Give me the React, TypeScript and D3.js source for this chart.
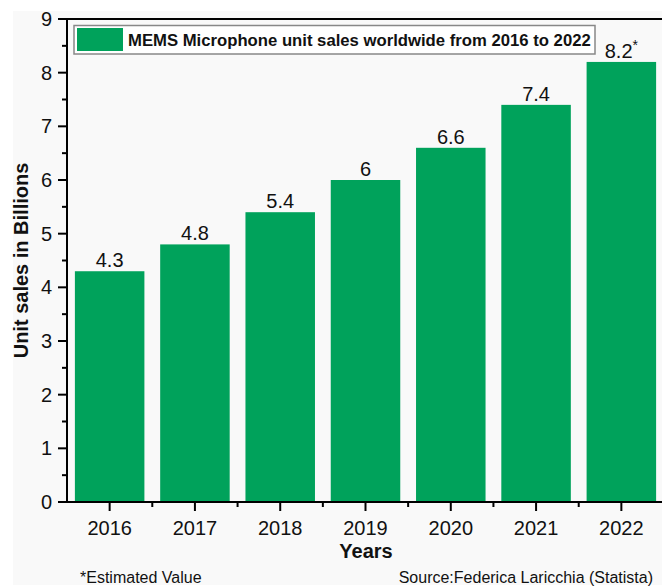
import React from "react";
import * as d3 from "d3";

const years = ["2016", "2017", "2018", "2019", "2020", "2021", "2022"];
const sales = [4.3, 4.8, 5.4, 6, 6.6, 7.4, 8.2];
const valueLabels = ["4.3", "4.8", "5.4", "6", "6.6", "7.4", "8.2"];
const estimated = [false, false, false, false, false, false, true];
const yTicks = [0, 1, 2, 3, 4, 5, 6, 7, 8, 9];
const yMinorTicks = [0.5, 1.5, 2.5, 3.5, 4.5, 5.5, 6.5, 7.5, 8.5];
const legendText = "MEMS Microphone unit sales worldwide from 2016 to 2022";

const W = 662;
const H = 587;
const FONT = "'Liberation Sans', Arial, sans-serif";
const GREEN = "#00a25b";

export default function App() {
  const left = 67;
  const right = 664;
  const top = 19;
  const bottom = 502;
  const x = d3.scaleBand<string>().domain(years).range([left, right]).paddingInner(0.185).paddingOuter(0.0925);
  const y = d3.scaleLinear().domain([0, 9]).range([bottom, top]);
  const step = x.step();
  const xMinor = years.slice(0, -1).map((yr) => (x(yr) as number) + x.bandwidth() / 2 + step / 2);

  return (
    <svg width={W} height={H} style={{ position: "absolute", left: 0, top: 0, background: "#fff" }} fontFamily={FONT}>
      <rect x={13} y={11} width={W - 13} height={H - 13} fill="#f9f9f9" />
      {/* bars */}
      {years.map((yr, i) => (
        <rect key={yr} x={x(yr)} y={y(sales[i])} width={x.bandwidth()} height={bottom - y(sales[i])} fill={GREEN} />
      ))}
      {/* value labels */}
      {years.map((yr, i) => (
        <text key={"v" + yr} x={(x(yr) as number) + x.bandwidth() / 2} y={y(sales[i]) - 4} textAnchor="middle" fontSize={20} fill="#111">
          {valueLabels[i]}
          {estimated[i] ? <tspan fontSize={14} dy={-8}>*</tspan> : null}
        </text>
      ))}
      {/* axes frame */}
      <line x1={left} x2={left} y1={top} y2={bottom} stroke="#000" strokeWidth={2} />
      <line x1={left - 1} x2={W} y1={bottom} y2={bottom} stroke="#000" strokeWidth={2} />
      <line x1={left - 1} x2={W} y1={top} y2={top} stroke="#000" strokeWidth={2} />
      {/* y ticks */}
      {yTicks.map((t) => (
        <g key={"yt" + t}>
          <line x1={left - 9} x2={left} y1={y(t)} y2={y(t)} stroke="#000" strokeWidth={2} />
          <text x={left - 15} y={y(t) + 7} textAnchor="end" fontSize={20} fill="#111">{t}</text>
        </g>
      ))}
      {yMinorTicks.map((t) => (
        <line key={"ym" + t} x1={left - 5} x2={left} y1={y(t)} y2={y(t)} stroke="#000" strokeWidth={2} />
      ))}
      {/* x ticks */}
      {years.map((yr) => {
        const cx = (x(yr) as number) + x.bandwidth() / 2;
        return (
          <g key={"xt" + yr}>
            <line x1={cx} x2={cx} y1={bottom} y2={bottom + 9} stroke="#000" strokeWidth={2} />
            <text x={cx} y={bottom + 32.5} textAnchor="middle" fontSize={20} fill="#111">{yr}</text>
          </g>
        );
      })}
      {xMinor.map((mx, i) => (
        <line key={"xm" + i} x1={mx} x2={mx} y1={bottom} y2={bottom + 5} stroke="#000" strokeWidth={2} />
      ))}
      {/* axis titles */}
      <text x={366} y={558} textAnchor="middle" fontSize={20} fontWeight="bold" fill="#111">Years</text>
      <text transform={`translate(27.5, 260.5) rotate(-90)`} textAnchor="middle" fontSize={20} fontWeight="bold" fill="#111">Unit sales in Billions</text>
      {/* legend */}
      <rect x={74} y={25.5} width={521} height={28.5} fill="#fff" stroke="#888" strokeWidth={1.5} />
      <rect x={77} y={28} width={46} height={23} fill={GREEN} />
      <text x={128} y={46} fontSize={16.7} fontWeight="bold" fill="#111">{legendText}</text>
      {/* footnotes */}
      <text x={80} y={583} fontSize={16} fill="#111">*Estimated Value</text>
      <text x={653} y={583} textAnchor="end" fontSize={16} fill="#111">Source:Federica Laricchia (Statista)</text>
    </svg>
  );
}
